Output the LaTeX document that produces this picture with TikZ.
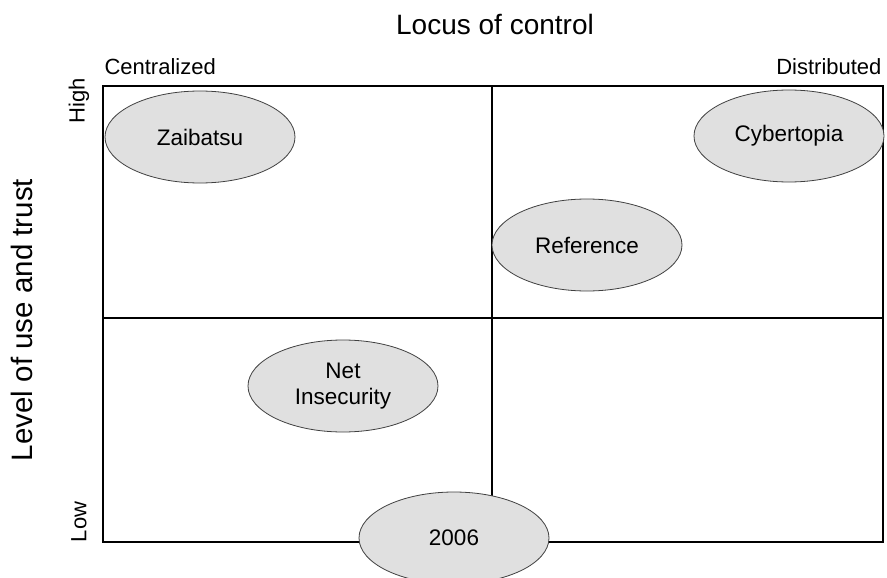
\documentclass[tikz,border=0pt]{standalone}
\usepackage{fontspec}
\setmainfont{Liberation Sans}
\usetikzlibrary{shapes.geometric}
\begin{document}
\begin{tikzpicture}[x=1pt,y=-1pt,
  blob/.style={ellipse,draw=black!75,line width=0.8pt,fill=black!12,
    minimum width=190pt,minimum height=92pt,inner sep=0pt,align=center,
    font=\fontsize{22.5}{25.5}\selectfont},
  gridline/.style={line width=2.8pt},
  axistitle/.style={font=\fontsize{28}{32}\selectfont},
  axisend/.style={font=\fontsize{22}{25}\selectfont}]
\useasboundingbox (0,0) rectangle (887,578);

% quadrant frame
\coordinate (tl) at (103,86);
\coordinate (br) at (883,542);
\coordinate (mt) at (492,86);
\coordinate (mb) at (492,542);
\coordinate (ml) at (103,318);
\coordinate (mr) at (883,318);
\draw[gridline] (tl) rectangle (br);
\draw[gridline] (mt) -- (mb);
\draw[gridline] (ml) -- (mr);

% axis labels
\node[axistitle] (locus) at (495,24) {Locus of control};
\node[axisend,anchor=west] (central) at (101,67) {Centralized};
\node[axisend,anchor=east] (distrib) at (885,67) {Distributed};
\node[axistitle,rotate=90,font=\fontsize{29.5}{33}\selectfont] (level) at (22,320) {Level of use and trust};
\node[axisend,rotate=90] (high) at (79,101) {High};
\node[axisend,rotate=90] (low) at (79,522) {Low};

% scenarios
\node[blob] (zaibatsu) at (200,137) {Zaibatsu};
\node[blob] (cyber) at (789,136) {Cybertopia};
\node[blob] (ref) at (587,245) {Reference};
\node[blob] (netins) at (343,386) {Net\\Insecurity};
\node[blob] (y2006) at (454,538) {2006};
\end{tikzpicture}
\end{document}
